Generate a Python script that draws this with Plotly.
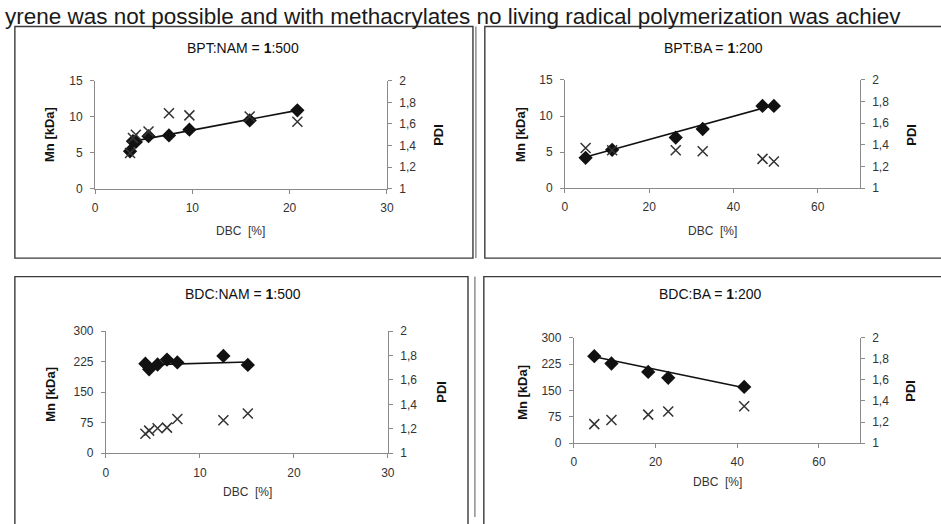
import plotly.graph_objects as go

W, H = 941, 524

# ---------------- data ----------------
titles = ["BPT:NAM = <b>1</b>:500", "BPT:BA = <b>1</b>:200",
          "BDC:NAM = <b>1</b>:500", "BDC:BA = <b>1</b>:200"]

p1_dbc = [3.6, 3.9, 4.2, 5.5, 7.6, 9.7, 15.9, 20.8]
p1_mn = [5.2, 6.6, 6.5, 7.3, 7.4, 8.2, 9.5, 10.9]
p1_pdi = [1.33, 1.47, 1.50, 1.53, 1.70, 1.68, 1.67, 1.62]
p1_trend_x = [3.6, 20.8]
p1_trend_y = [6.5, 10.9]

p2_dbc = [4.9, 11.2, 26.3, 32.7, 46.9, 49.6]
p2_mn = [4.2, 5.3, 7.0, 8.2, 11.4, 11.4]
p2_pdi = [1.37, 1.35, 1.35, 1.34, 1.27, 1.245]
p2_trend_x = [4.9, 49.6]
p2_trend_y = [4.3, 11.5]

p3_dbc = [4.2, 4.6, 5.5, 6.5, 7.6, 12.5, 15.1]
p3_mn = [220, 206, 218, 230, 223, 239, 217]
p3_pdi = [1.16, 1.185, 1.205, 1.21, 1.28, 1.27, 1.325]
p3_trend_x = [4.2, 15.1]
p3_trend_y = [217, 224]

p4_dbc = [5.0, 9.2, 18.2, 23.1, 41.7]
p4_mn = [248, 227, 203, 186, 160]
p4_pdi = [1.18, 1.22, 1.27, 1.30, 1.35]
p4_trend_x = [5.0, 41.7]
p4_trend_y = [246, 158]

mn_ticks_top = [0, 5, 10, 15]
mn_ticks_bot = [0, 75, 150, 225, 300]
pdi_ticks = [1, 1.2, 1.4, 1.6, 1.8, 2]
pdi_ticktext = ["1", "1,2", "1,4", "1,6", "1,8", "2"]
dbc_ticks_30 = [0, 10, 20, 30]
dbc_ticks_70 = [0, 20, 40, 60]

header_text = ("yrene was not possible and with methacrylates no living "
               "radical polymerization was achiev")

# ---------------- helpers ----------------
def px(x):
    return x / W

def py(y):
    return 1 - y / H

FONT = "Liberation Sans, Arial, sans-serif"
AXC = "#8a8a8a"
TXT = "#333333"

# panel geometry in pixels: (x0, x1, ytop, ybottom)
geo = [
    (93, 388, 76, 186.5),
    (568, 866, 75, 186),
    (104, 389, 333, 458.5),
    (577, 866, 340, 448),
]
panels = [
    (p1_dbc, p1_mn, p1_pdi, p1_trend_x, p1_trend_y, [0, 30], dbc_ticks_30, [0, 15], mn_ticks_top),
    (p2_dbc, p2_mn, p2_pdi, p2_trend_x, p2_trend_y, [0, 70], dbc_ticks_70, [0, 15], mn_ticks_top),
    (p3_dbc, p3_mn, p3_pdi, p3_trend_x, p3_trend_y, [0, 30], dbc_ticks_30, [0, 300], mn_ticks_bot),
    (p4_dbc, p4_mn, p4_pdi, p4_trend_x, p4_trend_y, [0, 70], dbc_ticks_70, [0, 300], mn_ticks_bot),
]
# annotation positions: title, Mn label, PDI label, DBC label
ann_pos = [
    ((243, 42), (47, 131), (440, 131), (240, 230)),
    ((718, 42), (523, 131), (918, 131), (717, 230)),
    ((243, 295), (48, 398), (443, 395), (247, 498)),
    ((715, 295), (525, 396), (917, 394), (722, 488)),
]

fig = go.Figure()
layout = dict(
    width=W, height=H, autosize=False,
    margin=dict(l=0, r=0, t=0, b=0),
    paper_bgcolor="white", plot_bgcolor="rgba(0,0,0,0)",
    showlegend=False,
    font=dict(family=FONT, color=TXT),
)
annotations = []
shapes = []

for i, (dbc, mn, pdi, tx, ty, xr, xt, yr, yt) in enumerate(panels):
    k = i + 1
    xa = f"x{k}" if k > 1 else "x"
    ya = f"y{2*k-1}" if k > 1 else "y"
    yb = f"y{2*k}"
    x0, x1, yt_px, yb_px = geo[i]
    dom_x = [px(x0), px(x1)]
    dom_y = [py(yb_px), py(yt_px)]
    xname = "xaxis" if k == 1 else f"xaxis{k}"
    yname = "yaxis" if k == 1 else f"yaxis{2*k-1}"
    y2name = f"yaxis{2*k}"
    layout[xname] = dict(
        domain=dom_x, range=xr, tickvals=xt, anchor=ya,
        showline=True, linecolor=AXC, linewidth=1, ticks="outside",
        ticklen=4, tickcolor=AXC, showgrid=False, zeroline=False,
        ticklabelstandoff=4,
        tickfont=dict(size=12, color=TXT, family=FONT), fixedrange=True,
    )
    layout[yname] = dict(
        domain=dom_y, range=yr, tickvals=yt, anchor=xa,
        showline=True, linecolor=AXC, linewidth=1, ticks="outside",
        ticklen=4, tickcolor=AXC, showgrid=False, zeroline=False,
        ticklabelstandoff=5,
        tickfont=dict(size=12, color=TXT, family=FONT), fixedrange=True,
    )
    layout[y2name] = dict(
        range=[1, 2], tickvals=pdi_ticks, ticktext=pdi_ticktext,
        overlaying=ya, side="right", anchor=xa,
        showline=True, linecolor=AXC, linewidth=1, ticks="outside",
        ticklen=4, tickcolor=AXC, showgrid=False, zeroline=False,
        ticklabelstandoff=5,
        tickfont=dict(size=12, color=TXT, family=FONT), fixedrange=True,
    )
    fig.add_trace(go.Scatter(x=tx, y=ty, mode="lines", xaxis=xa, yaxis=ya,
                             line=dict(color="#111111", width=1.6),
                             hoverinfo="skip"))
    fig.add_trace(go.Scatter(x=dbc, y=mn, mode="markers", xaxis=xa, yaxis=ya,
                             marker=dict(symbol="diamond", size=11, color="#111111")))
    fig.add_trace(go.Scatter(x=dbc, y=pdi, mode="markers", xaxis=xa, yaxis=yb,
                             marker=dict(symbol="x-thin", size=10,
                                         line=dict(width=1.5, color="#333333"))))

    (tx_, ty_), (mx, my), (pdx, pdy), (dx, dy) = ann_pos[i]
    annotations.append(dict(text=titles[i], x=px(tx_), y=py(ty_), xref="paper", yref="paper",
                            showarrow=False, xanchor="center", yanchor="middle",
                            font=dict(size=14, color="#111111", family=FONT)))
    annotations.append(dict(text="<b>Mn [kDa]</b>", x=px(mx), y=py(my), xref="paper", yref="paper",
                            showarrow=False, textangle=-90, xanchor="center", yanchor="middle",
                            font=dict(size=13, color="#111111", family=FONT)))
    annotations.append(dict(text="<b>PDI</b>", x=px(pdx), y=py(pdy), xref="paper", yref="paper",
                            showarrow=False, textangle=-90, xanchor="center", yanchor="middle",
                            font=dict(size=13, color="#111111", family=FONT)))
    annotations.append(dict(text="DBC  [%]", x=px(dx), y=py(dy), xref="paper", yref="paper",
                            showarrow=False, xanchor="center", yanchor="middle",
                            font=dict(size=12, color=TXT, family=FONT)))

# header line: glyph tops just at the page edge, as in the scan
annotations.append(dict(text=header_text, x=px(1), y=py(-4), xref="paper", yref="paper",
                        showarrow=False, xanchor="left", yanchor="top", borderpad=0,
                        font=dict(size=22.5, color="#1a1a1a", family=FONT)))

BOX = "#3a3a3a"
def rect(x0, y0, x1, y1):
    shapes.append(dict(type="rect", xref="paper", yref="paper",
                       x0=px(x0), x1=px(x1), y0=py(y1), y1=py(y0),
                       line=dict(color=BOX, width=1.4), fillcolor="rgba(0,0,0,0)"))

def vline(x, y0, y1, w=1.0, c="#555555"):
    shapes.append(dict(type="line", xref="paper", yref="paper",
                       x0=px(x), x1=px(x), y0=py(y0), y1=py(y1),
                       line=dict(color=c, width=w)))

rect(12, 20, 475, 258)
rect(487, 20, 950, 258)
rect(12, 277, 470, 540)
rect(486, 277, 950, 540)
vline(478, 20, 258)
vline(477, 277, 524)

layout["annotations"] = annotations
layout["shapes"] = shapes
fig.update_layout(**layout)
fig.write_html("out.html",
               config={"displayModeBar": False, "staticPlot": True},
               post_script="document.body.style.margin='0';document.body.style.overflow='hidden';")
